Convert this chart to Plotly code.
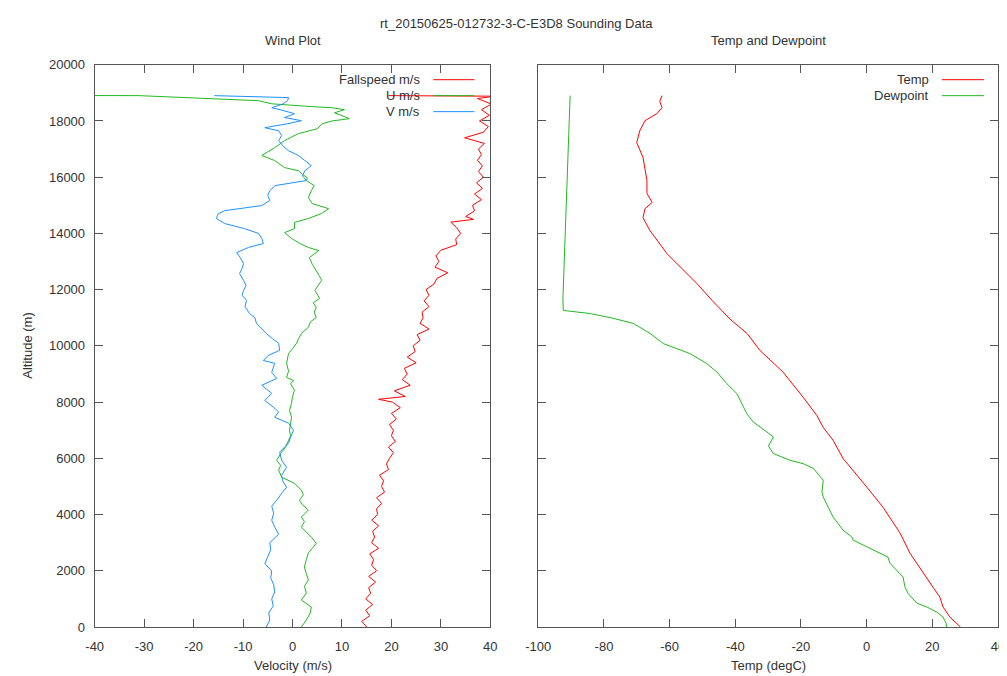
import plotly.graph_objects as go

# ---------------- data ----------------
title_main = "rt_20150625-012732-3-C-E3D8 Sounding Data"

fs_alt = [0, 200, 400, 600, 800, 1000, 1200, 1400, 1600, 1800, 2000, 2200, 2400, 2600, 2800,
          3000, 3200, 3400, 3600, 3800, 4000, 4200, 4400, 4600, 4800, 5000, 5200, 5400, 5600,
          5800, 6000, 6200, 6400, 6600, 6800, 7000, 7200, 7400, 7600, 7800, 8000, 8100, 8200,
          8400, 8600, 8800, 9000, 9200, 9400, 9600, 9800, 10000, 10200, 10400, 10600, 10800,
          11000, 11200, 11400, 11600, 11800, 12000, 12200, 12400, 12600, 12800, 13000, 13200,
          13400, 13600, 13800, 14000, 14200, 14400, 14500, 14600, 14800, 15000, 15200, 15400,
          15600, 15800, 16000, 16200, 16400, 16600, 16800, 17000, 17200, 17400, 17600, 17800,
          18000, 18200, 18400, 18600, 18800, 18880, 18900]
fs_val = [15.0, 14.0, 15.6, 14.8, 16.2, 14.8, 15.8, 15.4, 16.8, 15.4, 17.0, 16.0, 16.4, 15.6, 17.4,
          16.0, 16.6, 16.2, 17.4, 16.0, 17.2, 17.0, 18.0, 17.0, 18.6, 18.0, 18.4, 17.6, 19.4,
          19.0, 19.6, 20.4, 19.4, 20.8, 20.0, 20.4, 19.6, 21.0, 20.0, 21.8, 20.2, 17.4, 22.8,
          20.6, 23.8, 22.2, 23.2, 22.6, 25.0, 23.2, 24.8, 24.4, 25.8, 25.2, 27.6, 25.8,
          26.4, 26.2, 27.6, 26.6, 27.6, 27.0, 28.6, 29.2, 31.4, 28.8, 29.6, 29.0,
          30.0, 33.2, 33.0, 34.0, 33.2, 32.0, 36.6, 35.0, 36.8, 36.4, 38.2, 36.8,
          38.4, 37.2, 38.6, 37.6, 38.4, 37.4, 38.2, 37.6, 38.8, 34.8, 38.6, 39.6,
          37.8, 39.8, 38.2, 40.2, 37.4, 41.0, 19.4]

u_alt = [0, 250, 500, 710, 960, 1210, 1450, 1670, 1900, 2130, 2400, 2630, 2800, 2980, 3200,
         3400, 3550, 3750, 3910, 4160, 4350, 4510, 4700, 4870, 5110, 5330, 5580, 5750, 5930,
         6220, 6400, 6640, 6800, 7000, 7250, 7460, 7700, 7960, 8200, 8420, 8650, 8770, 8880,
         9100, 9380, 9550, 9730, 9900, 10090, 10250, 10440, 10660, 10850, 11010, 11200, 11370,
         11530, 11690, 11850, 11970, 12150, 12330, 12500, 12680, 12900, 13140, 13280, 13390,
         13500, 13650, 13820, 14030, 14170, 14390, 14530, 14710, 14880, 15060, 15270, 15520,
         15700, 15880, 15980, 16100, 16230, 16340, 16590, 16770, 16900, 17050, 17300, 17450,
         17550, 17720, 17900, 18000, 18080, 18190, 18290, 18400, 18470, 18510, 18610, 18720,
         18780, 18840, 18900, 18910]
u_val = [1.8, 2.8, 3.6, 3.8, 1.8, 2.8, 2.4, 3.2, 2.8, 2.4, 2.8, 3.2, 4.0, 4.8, 3.8,
         2.6, 1.8, 2.4, 1.8, 3.2, 2.0, 1.4, 2.2, 1.8, 0.4, -2.2, -2.8, -2.4, -3.2,
         -2.2, -1.4, -0.8, -0.4, -0.6, -0.4, -0.2, -0.6, -0.2, 0.0, 0.4, -0.4, 0.2, -1.2,
         -0.8, -1.2, -1.0, -0.8, 0.0, 0.8, 1.2, 1.8, 3.2, 3.6, 4.8, 4.4, 4.8,
         4.2, 5.5, 5.0, 4.5, 5.2, 5.9, 5.4, 4.8, 4.0, 3.4, 4.4, 5.3,
         3.2, 1.4, -0.2, -1.6, 0.4, 0.4, 3.2, 5.9, 7.3, 4.0, 3.2, 3.8,
         4.4, 2.8, 3.0, 2.0, 1.2, -1.6, -3.6, -6.2, -5.0, -3.6, -1.6, 0.2,
         1.2, 5.0, 6.0, 8.0, 11.5, 10.0, 8.5, 10.5, 8.0, 3.8, -4.2, -6.9,
         -15.0, -21.0, -31.0, -60.0]

v_alt = [0, 250, 500, 750, 1000, 1250, 1500, 1750, 2000, 2250, 2500, 2750, 3000, 3300, 3550,
         3800, 4050, 4300, 4550, 4760, 4970, 5200, 5400, 5680, 5930, 6220, 6400, 6540, 6750,
         7000, 7250, 7460, 7650, 7810, 8060, 8310, 8600, 8840, 9060, 9380, 9480, 9660, 9840,
         10090, 10250, 10440, 10800, 11000, 11150, 11400, 11620, 11800, 11970, 12150, 12330,
         12570, 12750, 12930, 13150, 13320, 13500, 13640, 13820, 14000, 14170, 14350, 14530,
         14700, 14810, 14990, 15170, 15350, 15520, 15700, 15880, 16050, 16230, 16410, 16590,
         16770, 16940, 17120, 17300, 17480, 17650, 17760, 17900, 18010, 18120, 18260, 18400,
         18470, 18600, 18720, 18830, 18900]
v_val = [-5.3, -4.6, -4.8, -3.9, -4.2, -3.6, -3.8, -4.4, -4.2, -5.6, -5.0, -4.4, -4.6, -2.8, -3.6,
         -4.2, -3.8, -4.2, -3.0, -2.2, -1.2, -2.0, -2.2, -1.2, -2.2, -2.6, -1.6, -0.8, -0.4,
         0.2, -0.8, -3.6, -2.8, -3.8, -5.6, -4.2, -6.2, -3.2, -4.2, -3.6, -5.9, -4.9, -2.6,
         -2.8, -4.0, -5.3, -7.3, -7.6, -8.7, -9.6, -9.3, -10.2, -9.9, -9.4, -9.9,
         -10.7, -10.2, -9.9, -10.6, -11.3, -8.9, -5.9, -6.2, -6.9, -9.7, -13.7, -15.4,
         -15.0, -13.7, -6.2, -4.6, -5.0, -4.6, -3.5, 2.8, 2.0, 2.5, 3.8, 2.5,
         1.2, -0.8, -2.0, -2.8, -2.2, -2.8, -5.6, -1.0, 1.8, -1.6, 0.4, -2.5,
         -4.2, -2.0, -1.0, -0.8, -15.8]

t_alt = [0, 350, 710, 1070, 1420, 2130, 2630, 3340, 3910, 4260, 4970, 5580, 6000, 6640, 7100,
         7530, 8170, 9060, 9840, 10440, 10950, 11620, 12220, 13280, 14100, 14560, 14880, 15100,
         15420, 15880, 16340, 16700, 17230, 17650, 18010, 18260, 18470, 18700, 18900]
t_val = [28.6, 25.4, 23.3, 22.3, 20.2, 16.2, 13.2, 10.2, 7.1, 5.0, 0.1, -4.1, -7.2, -10.2, -13.2,
         -15.2, -19.3, -25.4, -32.5, -36.4, -41.6, -47.1, -51.7, -60.8, -66.0, -68.1, -67.5, -65.3,
         -66.9, -66.9, -67.5, -68.1, -70.0, -69.1, -67.5, -63.9, -62.3, -63.0, -62.3]

td_alt = [0, 140, 355, 530, 710, 850, 1200, 1420, 1780, 2270, 2490, 2630, 3090, 3200, 3450,
          3910, 4620, 4800, 5220, 5640, 5810, 5930, 6170, 6440, 6760, 6940, 7290, 7590, 8060,
          8300, 8660, 9070, 9370, 9720, 10080, 10440, 10800, 10980, 11150, 11260, 11690, 14100,
          17050, 18900]
td_val = [24.4, 24.2, 23.3, 21.4, 18.4, 15.3, 12.6, 11.7, 11.1, 7.1, 6.5, 4.1, -4.1, -4.5, -7.2,
          -10.2, -13.2, -13.6, -13.2, -16.2, -19.3, -23.3, -28.4, -29.9, -28.4, -30.4, -34.5,
          -36.5, -38.5, -39.5, -42.6, -45.6, -48.7, -53.7, -61.9, -65.9, -71.1, -77.2, -84.2,
          -92.4, -92.5, -91.8, -90.9, -90.3]

alt_ticks = list(range(0, 20001, 2000))
vel_ticks = list(range(-40, 41, 10))
temp_ticks = list(range(-100, 41, 20))

RED = "#ff0000"
GREEN = "#22b822"
BLUE = "#1e90ff"
TXT = "#333333"
AXC = "#555555"
FONT = "Liberation Sans"
FS = 13

# figure canvas; positions below are given in target-picture pixels and converted
W, H = 1007, 676
SX, CX = 0.981, 11.4
SY, CY = 0.979, 6.4
BODY = 8


def fx(x):
    return (x - CX) / SX - BODY


def fy(y):
    return (y - CY) / SY - BODY


def px(x):
    return fx(x) / W


def py(y):
    return 1 - fy(y) / H


fig = go.Figure()
lw = 1
fig.add_trace(go.Scatter(x=fs_val, y=fs_alt, mode="lines", line=dict(color=RED, width=lw),
                         xaxis="x", yaxis="y", name="Fallspeed m/s"))
fig.add_trace(go.Scatter(x=u_val, y=u_alt, mode="lines", line=dict(color=GREEN, width=lw),
                         xaxis="x", yaxis="y", name="U m/s"))
fig.add_trace(go.Scatter(x=v_val, y=v_alt, mode="lines", line=dict(color=BLUE, width=lw),
                         xaxis="x", yaxis="y", name="V m/s"))
fig.add_trace(go.Scatter(x=t_val, y=t_alt, mode="lines", line=dict(color=RED, width=lw),
                         xaxis="x2", yaxis="y2", name="Temp"))
fig.add_trace(go.Scatter(x=td_val, y=td_alt, mode="lines", line=dict(color=GREEN, width=lw),
                         xaxis="x2", yaxis="y2", name="Dewpoint"))

L1, R1, L2, R2, TOP, BOT = 93, 489, 537, 997, 64, 627

axis_common = dict(showgrid=False, zeroline=False, showline=True, linecolor=AXC, linewidth=1,
                   mirror="allticks", ticks="inside", ticklen=8, tickcolor=AXC, tickwidth=1,
                   tickfont=dict(family=FONT, size=FS, color=TXT))

fig.update_layout(
    width=W, height=H, margin=dict(l=0, r=0, t=0, b=0),
    paper_bgcolor="white", plot_bgcolor="white", showlegend=False,
    font=dict(family=FONT, size=FS, color=TXT),
    xaxis=dict(domain=[px(L1), px(R1)], range=[-40, 40], tickvals=vel_ticks,
               ticktext=[str(v) for v in vel_ticks], anchor="y",
               ticklabelstandoff=7, **axis_common),
    yaxis=dict(domain=[py(BOT), py(TOP)], range=[0, 20000], tickvals=alt_ticks,
               ticktext=[str(v) for v in alt_ticks], anchor="x",
               ticklabelstandoff=6, **axis_common),
    xaxis2=dict(domain=[px(L2), px(R2)], range=[-100, 40], tickvals=temp_ticks,
                ticktext=[str(v) for v in temp_ticks], anchor="y2",
                ticklabelstandoff=7, **axis_common),
    yaxis2=dict(domain=[py(BOT), py(TOP)], range=[0, 20000], tickvals=alt_ticks, anchor="x2",
                showticklabels=False, **axis_common),
)


def ann(text, x, y, xanchor="center", angle=0, yanchor="middle", pad=1):
    fig.add_annotation(text=text, x=x, y=y, xref="paper", yref="paper",
                       showarrow=False, xanchor=xanchor, yanchor=yanchor, textangle=angle,
                       borderpad=pad, font=dict(family=FONT, size=FS, color=TXT))


ann(title_main, px(515), 1.0, yanchor="top", pad=0)
ann("Wind Plot", px((L1 + R1) / 2), py(40))
ann("Temp and Dewpoint", px((L2 + R2) / 2), py(40))
ann("Velocity (m/s)", px((L1 + R1) / 2), py(666))
ann("Temp (degC)", px((L2 + R2) / 2), py(666))
ann("Altitude (m)", 7.0 / W, py((TOP + BOT) / 2), angle=-90, pad=0)

# legends (gnuplot style: text then sample line)
legend_left = [("Fallspeed m/s", RED), ("U m/s", GREEN), ("V m/s", BLUE)]
legend_right = [("Temp", RED), ("Dewpoint", GREEN)]
for i, (name, col) in enumerate(legend_left):
    yy = 79 + 16 * i
    ann(name, px(421), py(yy), xanchor="right")
    fig.add_shape(type="line", xref="paper", yref="paper", x0=px(432), x1=px(473),
                  y0=py(yy), y1=py(yy), line=dict(color=col, width=1))
for i, (name, col) in enumerate(legend_right):
    yy = 79 + 16 * i
    ann(name, px(930), py(yy), xanchor="right")
    fig.add_shape(type="line", xref="paper", yref="paper", x0=px(941), x1=px(983),
                  y0=py(yy), y1=py(yy), line=dict(color=col, width=1))

fig.write_html("out.html")
